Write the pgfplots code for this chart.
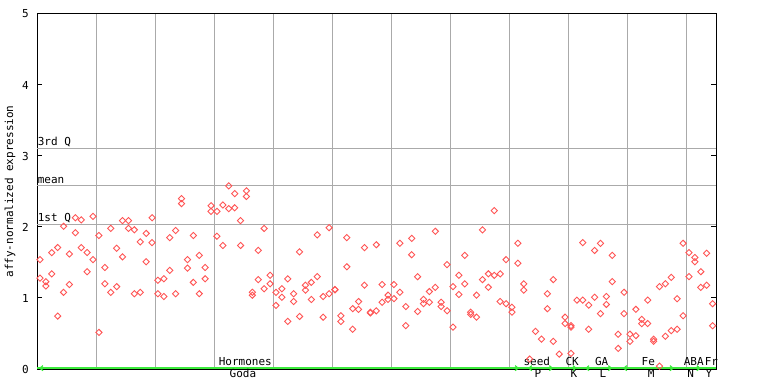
\documentclass[border=0pt]{standalone}
\usepackage{fontspec}
\setmainfont{DejaVu Sans Mono}
\usepackage{pgfplots}
\pgfplotsset{compat=1.18}
\usepackage{pgfplotstable}
\usetikzlibrary{arrows.meta}
\definecolor{pt}{RGB}{255,85,85}
\definecolor{gr}{RGB}{170,170,170}
\definecolor{lime}{RGB}{60,235,60}
\pgfplotstableread{
x y
0.5 1.54
0.5 1.28
1.5 1.23
1.5 1.17
2.5 1.64
2.5 1.34
3.5 1.71
3.5 0.745
4.5 2.01
4.5 1.08
5.5 1.62
5.5 1.19
6.5 2.13
6.5 1.92
7.5 2.10
7.5 1.71
8.5 1.64
8.5 1.37
9.5 2.15
9.5 1.54
10.5 1.88
10.5 0.515
11.5 1.43
11.5 1.20
12.5 1.98
12.5 1.08
13.5 1.70
13.5 1.16
14.5 2.09
14.5 1.58
15.5 2.09
15.5 1.98
16.5 1.96
16.5 1.06
17.5 1.79
17.5 1.08
18.5 1.91
18.5 1.51
19.5 2.13
19.5 1.78
20.5 1.25
20.5 1.06
21.5 1.27
21.5 1.02
22.5 1.85
22.5 1.39
23.5 1.95
23.5 1.06
24.5 2.40
24.5 2.33
25.5 1.54
25.5 1.42
26.5 1.88
26.5 1.22
27.5 1.60
27.5 1.06
28.5 1.43
28.5 1.27
29.5 2.30
29.5 2.22
30.5 2.22
30.5 1.87
31.5 2.31
31.5 1.74
32.5 2.58
32.5 2.26
33.5 2.47
33.5 2.27
34.5 2.09
34.5 1.74
35.5 2.51
35.5 2.43
36.5 1.08
36.5 1.04
37.5 1.67
37.5 1.26
38.5 1.98
38.5 1.13
39.5 1.32
39.5 1.20
40.5 1.08
40.5 0.895
41.5 1.13
41.5 1.01
42.5 1.27
42.5 0.67
43.5 1.06
43.5 0.95
44.5 1.65
44.5 0.74
45.5 1.18
45.5 1.11
46.5 1.22
46.5 0.98
47.5 1.89
47.5 1.30
48.5 1.02
48.5 0.73
49.5 1.99
49.5 1.06
50.5 1.115
50.5 1.12
51.5 0.75
51.5 0.67
52.5 1.85
52.5 1.44
53.5 0.85
53.5 0.56
54.5 0.95
54.5 0.84
55.5 1.71
55.5 1.18
56.5 0.80
56.5 0.79
57.5 1.75
57.5 0.82
58.5 1.19
58.5 0.94
59.5 1.04
59.5 0.98
60.5 1.19
60.5 0.99
61.5 1.77
61.5 1.08
62.5 0.88
62.5 0.61
63.5 1.84
63.5 1.61
64.5 1.30
64.5 0.81
65.5 0.98
65.5 0.92
66.5 1.09
66.5 0.94
67.5 1.94
67.5 1.15
68.5 0.94
68.5 0.88
69.5 1.47
69.5 0.82
70.5 1.16
70.5 0.59
71.5 1.32
71.5 1.05
72.5 1.60
72.5 1.20
73.5 0.80
73.5 0.77
74.5 1.04
74.5 0.73
75.5 1.96
75.5 1.26
76.5 1.34
76.5 1.15
77.5 2.23
77.5 1.32
78.5 1.34
78.5 0.95
79.5 1.54
79.5 0.92
80.5 0.87
80.5 0.80
81.5 1.77
81.5 1.49
82.5 1.20
82.5 1.11
83.5 0.14
84.5 0.53
85.5 0.42
86.5 1.06
86.5 0.85
87.5 1.26
87.5 0.39
88.5 0.21
89.5 0.73
89.5 0.64
90.5 0.61
90.5 0.59
90.5 0.22
91.5 0.97
92.5 1.78
92.5 0.97
93.5 0.90
93.5 0.56
94.5 1.67
94.5 1.01
95.5 1.77
95.5 0.78
96.5 1.02
96.5 0.91
97.5 1.60
97.5 1.23
98.5 0.49
98.5 0.29
99.5 1.08
99.5 0.78
100.5 0.49
100.5 0.39
101.5 0.84
101.5 0.47
102.5 0.70
102.5 0.64
103.5 0.97
103.5 0.64
104.5 0.42
104.5 0.39
105.5 1.16
105.5 0.04
106.5 1.20
106.5 0.46
107.5 1.29
107.5 0.54
108.5 0.99
108.5 0.56
109.5 1.77
109.5 0.75
110.5 1.64
110.5 1.30
111.5 1.57
111.5 1.51
112.5 1.37
112.5 1.15
113.5 1.63
113.5 1.18
114.5 0.92
114.5 0.61
}\pts
\begin{document}
\begin{tikzpicture}
\useasboundingbox (-37bp,-15bp) rectangle (731bp,369bp);
\begin{axis}[
  name=ax,
  scale only axis,
  width=679bp, height=355bp,
  xmin=0, xmax=115.08, ymin=0, ymax=5,
  clip=false,
  axis line style={black, line width=1bp},
  font=\fontsize{11bp}{13bp}\selectfont,
  /pgf/number format/assume math mode=true,
  ytick={0,1,2,3,4,5},
  tick align=inside,
  major tick length=5bp,
  ytick style={black, line width=1bp},
  yticklabel style={inner sep=0pt, xshift=-8bp},
  xtick={10,20,...,110},
  xticklabels={},
  xtick style={draw=none},
  xmajorgrids,
  extra y ticks={2.03,2.58,3.10},
  extra y tick labels={},
  extra y tick style={grid=major, major tick length=0pt},
  major grid style={gr, line width=1bp},
  every axis y label/.style={at={(axis description cs:0,0.5)}, xshift=-27bp, rotate=90, anchor=center},
  ylabel={affy-normalized expression},
]
\addplot[only marks, mark=square, mark size=2.2bp, mark options={rotate=45, draw=pt, line width=0.9bp, fill=none}] table[x=x, y=y] {\pts};
\addplot[lime, line width=1.6bp, forget plot] coordinates {(0,0.012) (115.08,0.012)};
\addplot[lime, line width=1.2bp, {Straight Barb[length=3bp,width=5bp]}-{Straight Barb[length=3bp,width=5bp]}] coordinates {(0.34,0.012) (81.7,0.012)};
\addplot[lime, line width=1.2bp, {Straight Barb[length=3bp,width=5bp]}-{Straight Barb[length=3bp,width=5bp]}] coordinates {(83.2,0.012) (87.5,0.012)};
\addplot[lime, line width=1.2bp, -{Straight Barb[length=3bp,width=5bp]}] coordinates {(87.8,0.012) (91.5,0.012)};
\addplot[lime, line width=1.2bp, {Straight Barb[length=3bp,width=5bp]}-{Straight Barb[length=3bp,width=5bp]}] coordinates {(92.9,0.012) (97.5,0.012)};
\addplot[lime, line width=1.2bp, {Straight Barb[length=3bp,width=5bp]}-{Straight Barb[length=3bp,width=5bp]}] coordinates {(99.3,0.012) (107.95,0.012)};
\addplot[lime, line width=1.2bp, -{Straight Barb[length=3bp,width=5bp]}] coordinates {(110.0,0.012) (112.5,0.012)};
\node[anchor=south west, inner sep=0pt, yshift=2bp] at (axis cs:0.1,3.10) {3rd Q};
\node[anchor=south west, inner sep=0pt, yshift=2bp] at (axis cs:0.1,2.58) {mean};
\node[anchor=south west, inner sep=0pt, yshift=2bp] at (axis cs:0.1,2.03) {1st Q};
\node[anchor=base, inner sep=0pt, yshift=3.5bp] at (axis cs:35.3,0) {Hormones};
\node[anchor=base, inner sep=0pt, yshift=3.5bp] at (axis cs:84.7,0) {seed};
\node[anchor=base, inner sep=0pt, yshift=3.5bp] at (axis cs:90.7,0) {CK};
\node[anchor=base, inner sep=0pt, yshift=3.5bp] at (axis cs:95.7,0) {GA};
\node[anchor=base, inner sep=0pt, yshift=3.5bp] at (axis cs:103.6,0) {Fe};
\node[anchor=base, inner sep=0pt, yshift=3.5bp] at (axis cs:111.3,0) {ABA};
\node[anchor=base, inner sep=0pt, yshift=3.5bp] at (axis cs:114.3,0) {Fr};
\node[anchor=base, inner sep=0pt, yshift=-8.5bp] at (axis cs:34.9,0) {Goda};
\node[anchor=base, inner sep=0pt, yshift=-8.5bp] at (axis cs:84.9,0) {P};
\node[anchor=base, inner sep=0pt, yshift=-8.5bp] at (axis cs:91.0,0) {K};
\node[anchor=base, inner sep=0pt, yshift=-8.5bp] at (axis cs:95.9,0) {L};
\node[anchor=base, inner sep=0pt, yshift=-8.5bp] at (axis cs:104.1,0) {M};
\node[anchor=base, inner sep=0pt, yshift=-8.5bp] at (axis cs:110.8,0) {N};
\node[anchor=base, inner sep=0pt, yshift=-8.5bp] at (axis cs:113.9,0) {Y};
\end{axis}
\end{tikzpicture}
\end{document}
